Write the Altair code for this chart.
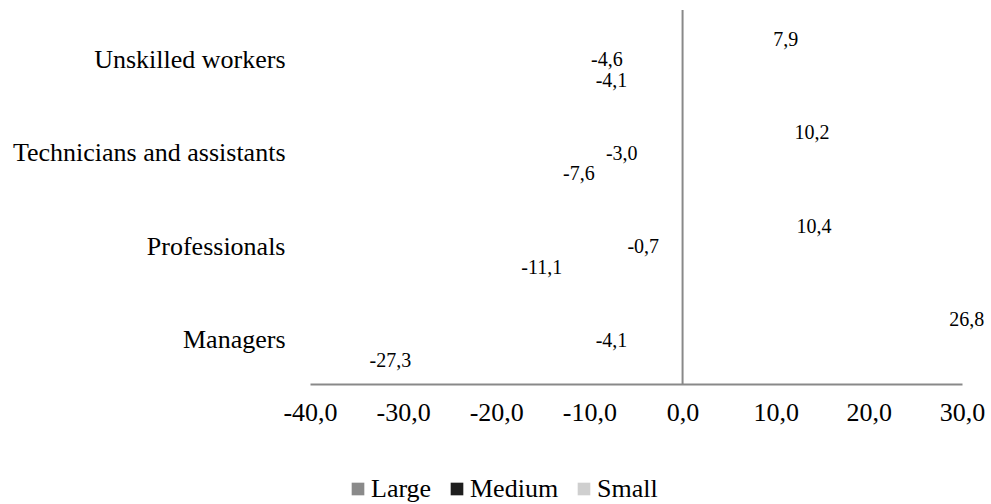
import altair as alt
import pandas as pd

# Change by occupation group and firm size (percentage points)
occupations = ["Unskilled workers", "Technicians and assistants", "Professionals", "Managers"]
sizes = ["Large", "Medium", "Small"]
large = [7.9, 10.2, 10.4, 26.8]
medium = [-4.6, -3.0, -0.7, -4.1]
small = [-4.1, -7.6, -11.1, -27.3]

x_ticks = [-40, -30, -20, -10, 0, 10, 20, 30]
colors = ["#8a8a8a", "#1e1e1e", "#cfcfcf"]

rows = []
for i, occ in enumerate(occupations):
    for size, series in zip(sizes, [large, medium, small]):
        rows.append({"occupation": occ, "size": size, "value": series[i]})
df = pd.DataFrame(rows)

FONT = "Liberation Serif"
# one decimal, comma separator, plain hyphen for negatives
COMMA_FMT = "(datum.value < 0 ? '-' : '') + replace(format(abs(datum.value), '.1f'), '.', ',')"

y_enc = alt.Y(
    "occupation:N",
    sort=occupations,
    scale=alt.Scale(paddingInner=0, paddingOuter=0),
    axis=alt.Axis(
        title=None, domain=False, ticks=False, labelPadding=25,
        labelFont=FONT, labelFontSize=26, labelColor="black",
        labelLimit=400, labelOffset=3,
    ),
)
offset_scale = alt.Scale(paddingInner=0, paddingOuter=0.78)
y_off = alt.YOffset("size:N", sort=sizes, scale=offset_scale)
x_enc = alt.X(
    "value:Q",
    scale=alt.Scale(domain=[-40, 30], nice=False),
    axis=alt.Axis(
        title=None, values=x_ticks, ticks=False, grid=False,
        domainColor="#898989", domainWidth=2,
        labelFont=FONT, labelFontSize=26, labelColor="black", labelPadding=15,
        labelFlush=False, labelOverlap=False,
        labelExpr=COMMA_FMT,
    ),
)

base = alt.Chart(df)

# bars are drawn without fill; only their value labels and legend keys show
bars = base.mark_bar(opacity=0).encode(
    x=x_enc,
    y=y_enc,
    yOffset=y_off,
    color=alt.Color(
        "size:N", sort=sizes,
        scale=alt.Scale(domain=sizes, range=colors),
        legend=alt.Legend(
            title=None, orient="none", direction="horizontal",
            legendX=35, legendY=466, symbolType="square", symbolSize=160,
            symbolOpacity=1, symbolStrokeWidth=0,
            labelFont=FONT, labelFontSize=26, labelColor="black",
            labelOffset=0, columnPadding=12,
        ),
    ),
)

label_style = dict(font=FONT, fontSize=20, color="black", baseline="middle", dy=3.5)

pos_labels = base.transform_filter("datum.value >= 0").transform_calculate(
    label=COMMA_FMT
).mark_text(align="left", dx=17, **label_style).encode(
    x="value:Q",
    y=alt.Y("occupation:N", sort=occupations),
    yOffset=alt.YOffset("size:N", sort=sizes, scale=offset_scale),
    text=alt.Text("label:N"),
)

neg_labels = base.transform_filter("datum.value < 0").transform_calculate(
    label=COMMA_FMT
).mark_text(align="right", dx=-17, **label_style).encode(
    x="value:Q",
    y=alt.Y("occupation:N", sort=occupations),
    yOffset=alt.YOffset("size:N", sort=sizes, scale=offset_scale),
    text=alt.Text("label:N"),
)

zero_line = alt.Chart(pd.DataFrame({"value": [0]})).mark_rule(
    color="#898989", strokeWidth=2
).encode(x="value:Q")

chart = alt.layer(bars, zero_line, pos_labels, neg_labels).properties(
    width=652,
    height=374,
    autosize=alt.AutoSizeParams(type="none"),
    padding={"left": 310, "top": 10, "right": 29, "bottom": 120},
    background="white",
).configure_view(stroke=None)

chart.save("out.html", embed_options={"renderer": "svg", "actions": False})
